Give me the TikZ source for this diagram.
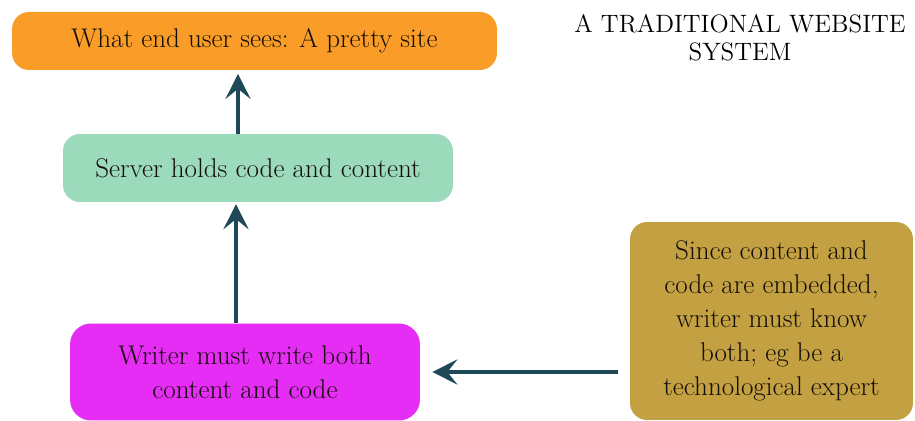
\documentclass[tikz,border=0pt]{standalone}
\usepackage{tikz}
\usetikzlibrary{arrows.meta,positioning}
\definecolor{orangebox}{RGB}{249,157,40}
\definecolor{greenbox}{RGB}{155,218,186}
\definecolor{pinkbox}{RGB}{229,45,245}
\definecolor{olivebox}{RGB}{195,160,65}
\definecolor{arrowcol}{RGB}{31,73,87}
\definecolor{textcol}{RGB}{20,15,10}
\tikzset{
    box/.style={rectangle, rounded corners=0.34cm, draw=none, text=textcol,
        align=center, font=\fontsize{15.4}{19.4}\selectfont, inner sep=0pt},
    flow/.style={draw=arrowcol, line width=2.3pt,
        -{Stealth[length=0.5cm, width=0.5cm, inset=0.2cm]}},
}

\begin{document}
\begin{tikzpicture}[x=0.02cm, y=-0.02cm]
	\useasboundingbox (0,0) rectangle (915,421);
	\node[box, fill=orangebox, minimum width=9.7cm, minimum height=1.16cm] (top) at (254.5,41) {What end user sees: A pretty site};
	\node[box, fill=greenbox, minimum width=7.8cm, minimum height=1.36cm] (server) at (258,168) {Server holds code and content};
	\node[box, fill=pinkbox, rounded corners=0.42cm, minimum width=7.0cm, minimum height=1.94cm] (writer) at (245,372) {Writer must write both\\content and code};
	\node[box, fill=olivebox, minimum width=5.66cm, minimum height=3.96cm] (note) at (771.5,321) {Since content and\\code are embedded,\\writer must know\\both; eg be a\\technological expert};
	\node[box, text=black, font=\fontsize{14.3}{16}\selectfont] (title) at (740,38) {A TRADITIONAL WEBSITE\\SYSTEM};
	% arrows
	\coordinate (a1) at (238,0);
	\coordinate (a2) at (236,0);
	\draw[flow, shorten >=2pt] (server.north -| a1) -- (top.south -| a1);
	\draw[flow, shorten >=1pt] (writer.north -| a2) -- (server.south -| a2);
	\draw[flow, shorten <=0.24cm, shorten >=0.24cm] (note.west |- writer.east) -- (writer.east);
\end{tikzpicture}
\end{document}
